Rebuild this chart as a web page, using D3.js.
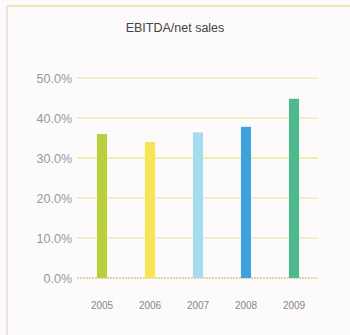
<!DOCTYPE html>
<html><head><meta charset="utf-8">
<script src="https://cdn.jsdelivr.net/npm/d3@7"></script>
<style>body{margin:0;background:#fbf9f9;}svg{display:block;}</style>
</head><body>
<script>
const years = ["2005","2006","2007","2008","2009"];
const values = [36.0, 34.0, 36.4, 37.8, 44.8];
const colors = ["#b9cf3c","#f6e655","#a6dcee","#3fa2dc","#4fb98e"];
const ticks = [0,10,20,30,40,50];

const W=350,H=335;
const svg=d3.select("body").append("svg").attr("width",W).attr("height",H);
svg.append("rect").attr("width",W).attr("height",H).attr("fill","#fcfafa");
// frame
svg.append("line").attr("x1",7).attr("x2",W).attr("y1",6).attr("y2",6).attr("stroke","#e3e3a6").attr("stroke-width",1.5);
svg.append("line").attr("x1",7).attr("x2",7).attr("y1",6).attr("y2",H).attr("stroke","#e6e3e0").attr("stroke-width",2);

const x=d3.scaleBand().domain(years).range([78,318]).paddingInner(0.79).paddingOuter(0.395);
const y=d3.scaleLinear().domain([0,50]).range([278,78]);

svg.append("text").attr("x",175).attr("y",32).attr("text-anchor","middle")
 .attr("font-family","Liberation Sans, Arial, sans-serif").attr("font-size",12.5).attr("fill","#444").text("EBITDA/net sales");

const g=svg.append("g");
ticks.forEach(t=>{
  g.append("line").attr("x1",77).attr("x2",318).attr("y1",y(t)).attr("y2",y(t))
   .attr("stroke", t===0?"#b8b85a":(t===30?"#e2e25a":"#e6e69a")).attr("stroke-width",t===0?1.2:1)
   .attr("stroke-dasharray", t===0?"2,1":null);
});
const yAxis=d3.axisLeft(y).tickValues(ticks).tickFormat(d=>d.toFixed(1)+"%").tickSize(0).tickPadding(0);
const ya=svg.append("g").attr("transform","translate(72,0)").call(yAxis);
ya.select(".domain").remove();
ya.selectAll("text").attr("font-family","Liberation Sans, Arial, sans-serif").attr("font-size",12.5).attr("fill","#999");

svg.selectAll("rect.bar").data(years).enter().append("rect").attr("class","bar")
 .attr("x",d=>x(d)).attr("width",x.bandwidth())
 .attr("y",(d,i)=>y(values[i])).attr("height",(d,i)=>y(0)-y(values[i]))
 .attr("fill",(d,i)=>colors[i]);

const xAxis=d3.axisBottom(x).tickSize(0).tickPadding(0);
const xa=svg.append("g").attr("transform","translate(0,302)").call(xAxis);
xa.select(".domain").remove();
xa.selectAll("text").attr("font-family","Liberation Sans, Arial, sans-serif").attr("font-size",10).attr("fill","#888");
</script>
</body></html>
